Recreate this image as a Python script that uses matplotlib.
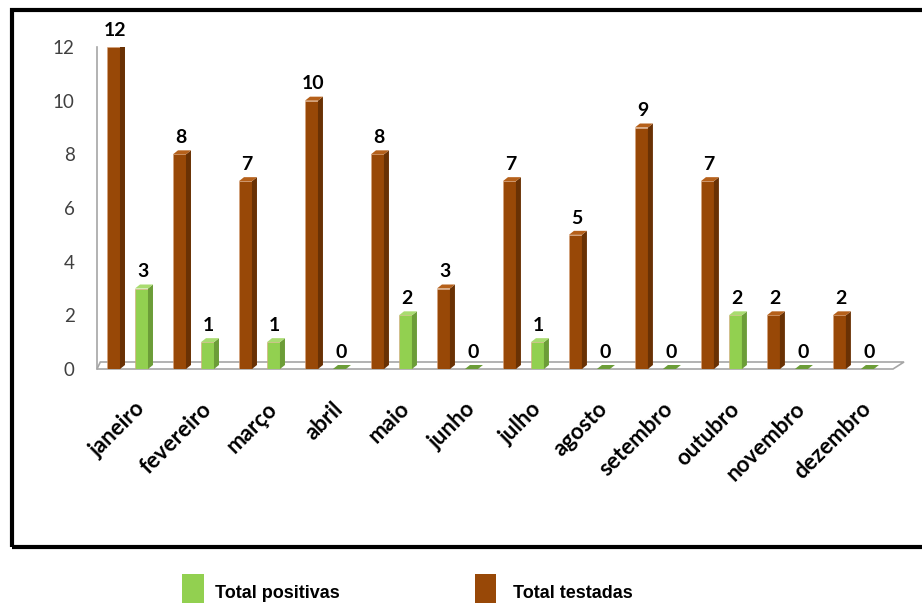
import numpy as np
import matplotlib
matplotlib.use("Agg")
import matplotlib.pyplot as plt
from matplotlib.patches import Polygon, Rectangle
import matplotlib.transforms as mtransforms

meses = ["janeiro", "fevereiro", "março", "abril", "maio", "junho",
         "julho", "agosto", "setembro", "outubro", "novembro", "dezembro"]
total_testadas = [12, 8, 7, 10, 8, 3, 7, 5, 9, 7, 2, 2]
total_positivas = [3, 1, 1, 0, 2, 0, 1, 0, 0, 2, 0, 0]

BROWN = ("#984807", "#693104", "#b5601a")   # front, side, top
GREEN = ("#92d050", "#6c9d38", "#a9dc70")

W, H = 922, 607
fig = plt.figure(figsize=(W / 100, H / 100), dpi=100)

# axes placed in pixels: floor front edge at y=369, value 12 at y=47
ax_l, ax_r, ax_b, ax_t = 97, 893, 369, 47
ax = fig.add_axes([ax_l / W, 1 - ax_b / H, (ax_r - ax_l) / W, (ax_b - ax_t) / H])
ax.set_xlim(-0.462, 11.6)
ax.set_ylim(0, 12)

px_x = (ax_r - ax_l) / (11.6 + 0.462)   # pixels per x unit
px_y = (ax_b - ax_t) / 12.0             # pixels per y unit


def bar3d(x, h, w, colors, dpx=5, dpy=4):
    front, side, top = colors
    dx, dy = dpx / px_x, dpy / px_y
    x0, x1 = x - w / 2, x + w / 2
    if h > 0:
        ax.add_patch(Rectangle((x0, 0), w, h, facecolor=front,
                               edgecolor="#d9a27a", linewidth=0.4, zorder=3))
        ax.add_patch(Polygon([(x1, 0), (x1 + dx, dy), (x1 + dx, h + dy), (x1, h)],
                             closed=True, facecolor=side, edgecolor="none", zorder=3))
    ax.add_patch(Polygon([(x0, h), (x1, h), (x1 + dx, h + dy), (x0 + dx, h + dy)],
                         closed=True, facecolor=top if h > 0 else side,
                         edgecolor="none", zorder=4))


x = np.arange(len(meses))
bw = 13 / px_x
off = 14 / px_x

# floor
fdx, fdy = 11 / px_x, 7 / px_y
xl, xr = ax.get_xlim()
ax.add_patch(Polygon([(xl, 0), (xr, 0), (xr + fdx, fdy), (xl + fdx * 0.3, fdy)],
                     closed=True, facecolor="white", edgecolor="#a6a6a6",
                     linewidth=1.2, zorder=1, clip_on=False))

for i in x:
    bar3d(i - off, total_testadas[i], bw, BROWN)
    bar3d(i + off, total_positivas[i], bw, GREEN)

for i in x:
    for xv, v in ((i - off, total_testadas[i]), (i + off, total_positivas[i])):
        ax.annotate(str(v), (xv, v), xytext=(1, 6), textcoords="offset points",
                    ha="center", va="bottom", fontsize=14, fontweight="bold",
                    family="Lato", color="black", annotation_clip=False)

for s in ["top", "right", "bottom"]:
    ax.spines[s].set_visible(False)
ax.spines["left"].set_color("#a6a6a6")
ax.spines["left"].set_linewidth(1.2)

ax.set_yticks(np.arange(0, 13, 2))
ax.tick_params(axis="y", length=0, pad=16, labelsize=13.5, labelcolor="#404040")
for lbl in ax.get_yticklabels():
    lbl.set_family("Lato")

ax.set_xticks(x)
ax.set_xticklabels(meses, rotation=45, ha="right", rotation_mode="anchor",
                   fontsize=16, fontweight="bold", family="Lato")
ax.tick_params(axis="x", length=0, pad=21)
shift = mtransforms.ScaledTranslation(7 / 100, 0, fig.dpi_scale_trans)
for lbl in ax.get_xticklabels():
    lbl.set_transform(lbl.get_transform() + shift)

# outer frame
fig.patches.append(Rectangle((12 / W, 1 - 547 / H), 1.0, (547 - 10) / H,
                             transform=fig.transFigure, fill=False,
                             edgecolor="black", linewidth=3, clip_on=False))

# legend below the frame
fig.patches.append(Rectangle((182 / W, 1 - 603 / H), 22 / W, 29 / H,
                             transform=fig.transFigure, facecolor=GREEN[0],
                             edgecolor="none"))
fig.text(215 / W, 1 - 594 / H, "Total positivas", fontsize=13, fontweight="bold",
         family="Liberation Sans", va="center", ha="left")
fig.patches.append(Rectangle((475 / W, 1 - 603 / H), 21 / W, 29 / H,
                             transform=fig.transFigure, facecolor=BROWN[0],
                             edgecolor="none"))
fig.text(513 / W, 1 - 594 / H, "Total testadas", fontsize=13, fontweight="bold",
         family="Liberation Sans", va="center", ha="left")

fig.savefig("out.png", dpi=100)
